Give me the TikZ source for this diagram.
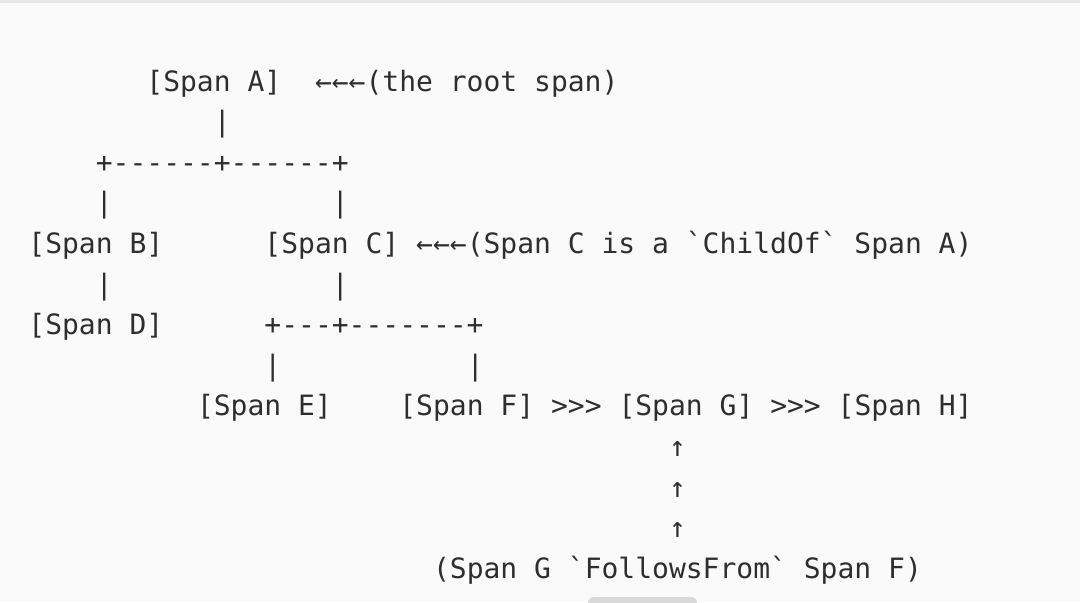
\documentclass[tikz,border=0pt]{standalone}
\usepackage{fontspec}
\setmonofont{DejaVu Sans Mono}
\definecolor{bgc}{HTML}{FAFAFA}
\definecolor{topline}{HTML}{E6E6E6}
\definecolor{barc}{HTML}{D9D9D9}
\definecolor{txt}{HTML}{2E2E2E}
\tikzset{
  asc/.style={anchor=base west, inner sep=0pt, text=txt,
    font=\ttfamily\fontsize{14}{17}\selectfont},
}
\newcommand{\cw}{16.86}
\begin{document}
\begin{tikzpicture}[x=0.5pt,y=-0.5pt]
\useasboundingbox (0,0) rectangle (1080,602);
\fill[bgc] (0,0) rectangle (1080,602);
\fill[topline] (0,0) rectangle (1080,3);
\fill[barc, rounded corners=3pt] (588,597) rectangle (697,608);
% row 0
\node[asc] (A) at ({28+7*\cw},91) {[Span A]};
\node[asc] (noteA) at ({28+17*\cw},91) {←←←(the root span)};
% row 1
\node[asc] (v1) at ({28+11*\cw},131.6) {|};
% row 2
\node[asc] (h1) at ({28+4*\cw},172.2) {+------+------+};
% row 3
\node[asc] (v2) at ({28+4*\cw},212.8) {|};
\node[asc] (v3) at ({28+18*\cw},212.8) {|};
% row 4
\node[asc] (B) at ({28+0*\cw},253.4) {[Span B]};
\node[asc] (C) at ({28+14*\cw},253.4) {[Span C]};
\node[asc] (noteC) at ({28+23*\cw},253.4) {←←←(Span C is a \symbol{96}ChildOf\symbol{96} Span A)};
% row 5
\node[asc] (v4) at ({28+4*\cw},294) {|};
\node[asc] (v5) at ({28+18*\cw},294) {|};
% row 6
\node[asc] (D) at ({28+0*\cw},334.6) {[Span D]};
\node[asc] (h2) at ({28+14*\cw},334.6) {+---+-------+};
% row 7
\node[asc] (v6) at ({28+14*\cw},375.2) {|};
\node[asc] (v7) at ({28+26*\cw},375.2) {|};
% row 8
\node[asc] (E) at ({28+10*\cw},415.8) {[Span E]};
\node[asc] (F) at ({28+22*\cw},415.8) {[Span F]};
\node[asc] (fg) at ({28+31*\cw},415.8) {>>>};
\node[asc] (G) at ({28+35*\cw},415.8) {[Span G]};
\node[asc] (gh) at ({28+44*\cw},415.8) {>>>};
\node[asc] (H) at ({28+48*\cw},415.8) {[Span H]};
% rows 9-11
\node[asc] (u1) at ({28+38*\cw},456.4) {↑};
\node[asc] (u2) at ({28+38*\cw},497) {↑};
\node[asc] (u3) at ({28+38*\cw},537.6) {↑};
% row 12
\node[asc] (noteG) at ({28+24*\cw},578.2) {(Span G \symbol{96}FollowsFrom\symbol{96} Span F)};
\end{tikzpicture}
\end{document}
